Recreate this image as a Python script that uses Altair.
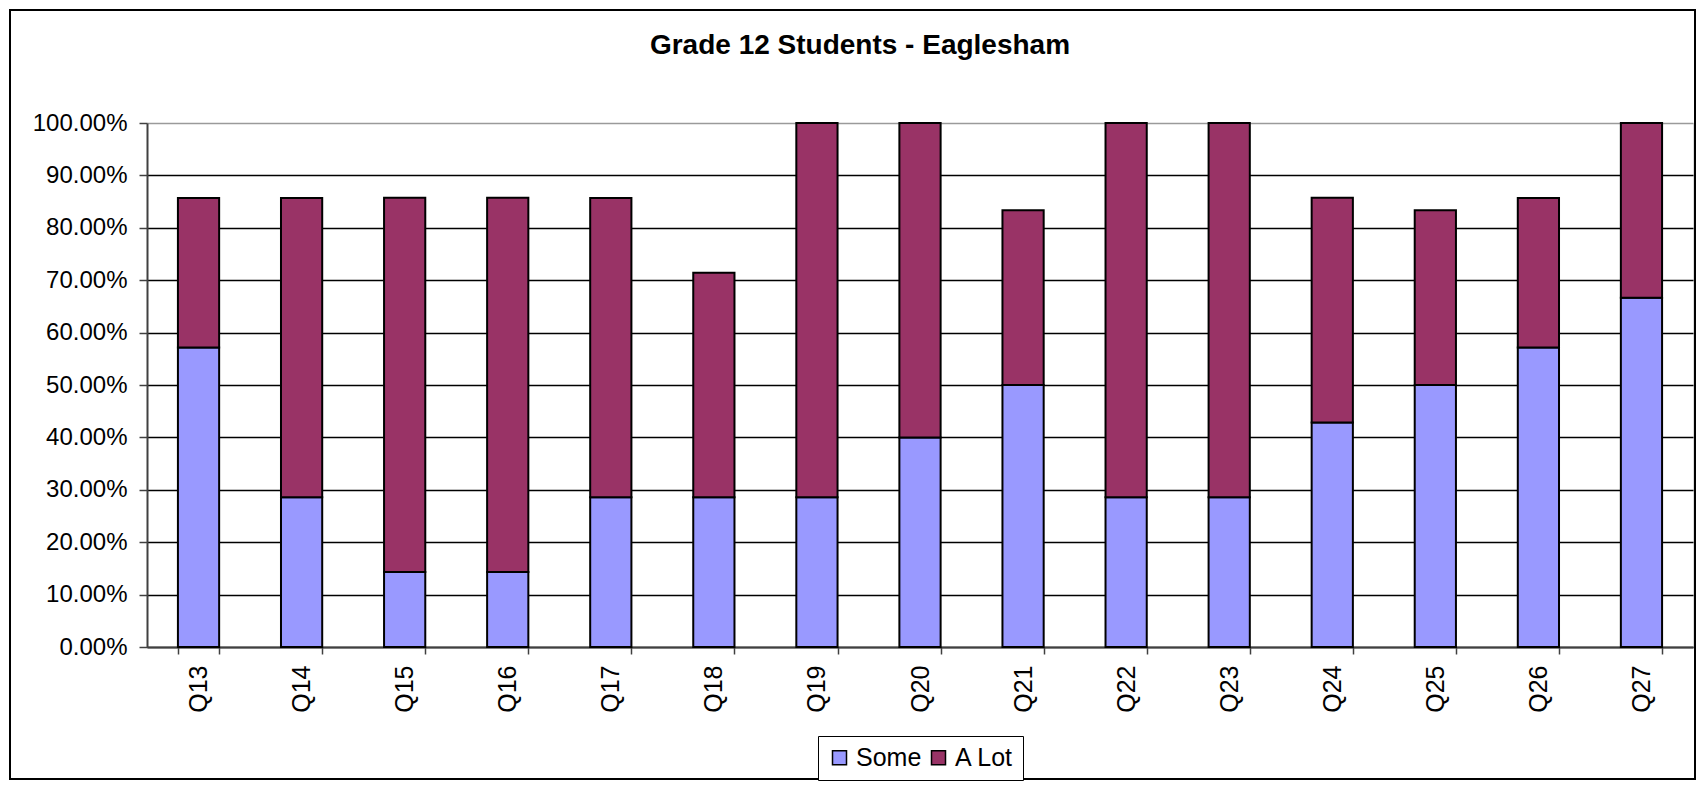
import altair as alt
import pandas as pd

questions = ["Q13", "Q14", "Q15", "Q16", "Q17", "Q18", "Q19", "Q20",
             "Q21", "Q22", "Q23", "Q24", "Q25", "Q26", "Q27"]
some = [0.5714, 0.2857, 0.1429, 0.1429, 0.2857, 0.2857, 0.2857, 0.40,
        0.50, 0.2857, 0.2857, 0.4286, 0.50, 0.5714, 0.6667]
a_lot = [0.2857, 0.5714, 0.7143, 0.7143, 0.5714, 0.4286, 0.7143, 0.60,
         0.3333, 0.7143, 0.7143, 0.4286, 0.3333, 0.2857, 0.3333]
series = ["Some", "A Lot"]
colors = ["#9999FF", "#993366"]
y_ticks = [0, 0.1, 0.2, 0.3, 0.4, 0.5, 0.6, 0.7, 0.8, 0.9, 1.0]
title_text = "Grade 12 Students - Eaglesham"

rows = []
for i, q in enumerate(questions):
    rows.append({"question": q, "series": series[0], "value": some[i], "order": 0})
    rows.append({"question": q, "series": series[1], "value": a_lot[i], "order": 1})
df = pd.DataFrame(rows)

W, H = 1546, 524
PAD_L, PAD_T, PAD_R, PAD_B = 139, 115, 4, 134
FONT = "Liberation Sans"

bars = alt.Chart(df).mark_bar(stroke="black", strokeWidth=2, opacity=1).encode(
    x=alt.X(
        "question:N", sort=questions, title=None,
        scale=alt.Scale(paddingInner=0.6, paddingOuter=0.3),
        axis=alt.Axis(
            labelAngle=270, tickBand="extent", labelFontSize=25, labelFont=FONT,
            labelColor="black", labelPadding=11, tickSize=7, tickColor="#404040",
            tickWidth=1.5, domainColor="#404040", domainWidth=2, grid=False,
        ),
    ),
    y=alt.Y(
        "value:Q", stack="zero", title=None,
        scale=alt.Scale(domain=[0, 1], nice=False),
        axis=alt.Axis(
            format=".2%", values=y_ticks, labelFontSize=24, labelFont=FONT,
            labelColor="black", labelPadding=12, tickSize=8, tickColor="#404040",
            tickWidth=1.5, domainColor="#404040", domainWidth=2,
            grid=True, gridWidth=1.5,
            gridColor={"condition": {"test": "datum.value >= 1", "value": "#9a9a9a"},
                       "value": "black"},
        ),
    ),
    color=alt.Color(
        "series:N", sort=series,
        scale=alt.Scale(domain=series, range=colors),
        legend=alt.Legend(
            title=None, orient="none", legendX=671, legendY=613,
            direction="horizontal", symbolType="square", symbolSize=196,
            symbolStrokeColor="black", symbolStrokeWidth=1.5,
            labelFontSize=25, labelFont=FONT, labelColor="black",
            strokeColor="black", fillColor="white", padding=9,
            columnPadding=4, labelOffset=4,
        ),
    ),
    order=alt.Order("order:Q"),
)

border = alt.Chart(pd.DataFrame({"k": [0]})).mark_rect(
    fill=None, stroke="black", strokeWidth=2, clip=False
).encode(
    x=alt.value(-137), x2=alt.value(W + PAD_R - 2),
    y=alt.value(-113), y2=alt.value(H + PAD_B - 2),
)

chart = alt.layer(border, bars).properties(
    width=W, height=H,
    padding={"left": PAD_L, "top": PAD_T, "right": PAD_R, "bottom": PAD_B},
    autosize=alt.AutoSizeParams(type="none"),
    title=alt.Title(
        title_text, fontSize=28, font=FONT, fontWeight="bold", color="black",
        anchor="middle", frame="group", dx=-60, dy=55,
    ),
).configure_view(
    fill="#C0C0C0", stroke="#8a8a8a", strokeWidth=2
).configure(background="white")

chart.save("out.html", embed_options={"renderer": "svg", "actions": False})
